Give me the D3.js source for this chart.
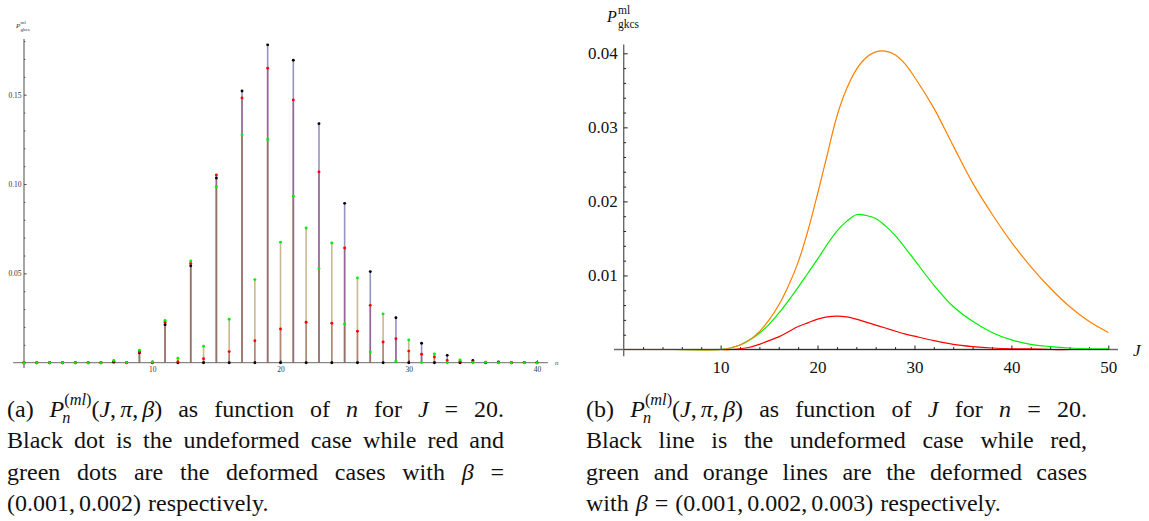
<!DOCTYPE html>
<html>
<head>
<meta charset="utf-8">
<script src="https://cdn.jsdelivr.net/npm/d3@7"></script>
<style>
  body { margin: 0; background: #fff; }
  svg { display: block; }
</style>
</head>
<body>
<svg id="chart" width="1149" height="521"></svg>
<script>
// ---- panel (a): P vs n, J = 20
const nValues = d3.range(0, 41);
const blackDots = [0,0,0,0,0,0,0,0.0003,0,0.0056,0,0.0213,0,0.0543,0,0.1034,0,0.1521,0,0.1779,0,
  0.1693,0,0.1338,0,0.0892,0,0.0510,0,0.0252,0,0.0109,0,0.0041,0,0.0013,0,0.0004,0,0.0001,0];
const redDots = [0,0,0,0,0,0,0,0.0008,0,0.0061,0.0001,0.0226,0.0006,0.0556,0.0022,0.1051,0.0062,0.1482,0.0123,0.1648,0.0189,
  0.1471,0.0226,0.1068,0.0221,0.0642,0.0176,0.0321,0.0116,0.0134,0.0065,0.0047,0.0032,0.0013,0.0008,0.0004,0.0003,0.0001,0,0,0];
const greenDots = [0,0,0,0,0,0,0,0.0013,0.0001,0.0070,0.0004,0.0237,0.0025,0.0569,0.0092,0.0985,0.0243,0.1275,0.0465,0.1249,0.0674,
  0.0932,0.0754,0.0526,0.0670,0.0217,0.0474,0.0060,0.0273,0.0008,0.0127,0.0001,0.0049,0,0.0015,0,0.0002,0,0,0,0];
const nTicks = [10, 20, 30, 40];
const nMinor = [2, 4, 6, 8, 12, 14, 16, 18, 22, 24, 26, 28, 32, 34, 36, 38];
const yTicksA = [0.05, 0.10, 0.15];
const yMinorA = [0.01, 0.02, 0.03, 0.04, 0.06, 0.07, 0.08, 0.09, 0.11, 0.12, 0.13, 0.14, 0.16, 0.17, 0.18];

// ---- panel (b): P vs J, n = 20
const jValues = [0,5,10,11,12,13,14,15,16,17,18,19,20,21,22,23,24,25,26,27,28,29,30,32,34,36,38,40,42,44,46,48,50];
const blackLine = [0,0,0,0,0,0,0,0,0,0,0,0,0,0,0,0,0,0,0,0,0,0,0,0,0,0,0,0,0,0,0,0,0];
const redLine = [0,0,0,0,0.0001,0.0003,0.0007,0.0012,0.0017,0.0024,0.0031,0.0036,0.0041,0.0044,0.0045,0.0044,0.0041,
  0.0037,0.0033,0.0029,0.0025,0.0021,0.0018,0.0012,0.0007,0.0004,0.0002,0.0001,0.0001,0,0,0,0];
const greenLine = [0,0,0,0.0002,0.0006,0.0013,0.0022,0.0034,0.0049,0.0066,0.0084,0.0103,0.0122,0.0142,0.0160,0.0173,0.0182,
  0.0181,0.0177,0.0167,0.0154,0.0138,0.0121,0.0087,0.0058,0.0038,0.0023,0.0013,0.0007,0.0004,0.0002,0.0001,0.0001];
const orangeLine = [0,0,0,0.0002,0.0006,0.0013,0.0024,0.0040,0.0060,0.0086,0.0118,0.0160,0.0210,0.0263,0.0315,0.0352,0.0378,
  0.0394,0.0402,0.0403,0.0398,0.0386,0.0368,0.0326,0.0275,0.0225,0.0183,0.0145,0.0112,0.0083,0.0058,0.0038,0.0023];
const jTicks = [10, 20, 30, 40, 50];
const jMinor = [2,4,6,8,12,14,16,18,22,24,26,28,32,34,36,38,42,44,46,48];
const yTicksB = [0.01, 0.02, 0.03, 0.04];
const yMinorB = [0.002,0.004,0.006,0.008,0.012,0.014,0.016,0.018,0.022,0.024,0.026,0.028,0.032,0.034,0.036,0.038];

const serif = '"Liberation Serif"';
const axisCol = "#6a6a6a";
const svg = d3.select("#chart");

// ================= panel (a) =================
const xa = d3.scaleLinear().domain([0, 40]).range([24, 537]);
const ya = d3.scaleLinear().domain([0, 0.15]).range([362.7, 94.7]);
const pa = svg.append("g");

// stems (filling to axis), one colour per series
const stemColors = ["rgb(61,61,153)", "rgb(153,61,107)", "rgb(153,128,61)"];
const dotColors = ["#000000", "#ff0000", "#00ee00"];
const dotSeries = [blackDots, redDots, greenDots];

dotSeries.forEach((vals, s) => {
  pa.append("g").selectAll("line").data(vals).join("line")
    .attr("x1", (d, i) => xa(nValues[i]))
    .attr("x2", (d, i) => xa(nValues[i]))
    .attr("y1", ya(0))
    .attr("y2", d => ya(d))
    .attr("stroke", stemColors[s])
    .attr("stroke-opacity", 0.55)
    .attr("stroke-width", 1.6);
});

// axes
pa.append("line").attr("x1", xa(-0.85)).attr("x2", xa(40.85)).attr("y1", ya(0)).attr("y2", ya(0))
  .attr("stroke", axisCol).attr("stroke-width", 1);
pa.append("line").attr("x1", xa(0)).attr("x2", xa(0)).attr("y1", ya(0.1812)).attr("y2", ya(-0.003))
  .attr("stroke", axisCol).attr("stroke-width", 1.2);

const axAx = pa.append("g").attr("transform", `translate(0,${ya(0)})`)
  .call(d3.axisBottom(xa).tickValues(nTicks).tickSize(-2.5).tickPadding(4).tickFormat(d3.format("d")));
const axAxm = pa.append("g").attr("transform", `translate(0,${ya(0)})`)
  .call(d3.axisBottom(xa).tickValues(nMinor).tickSize(-1.4).tickFormat(""));
const axAy = pa.append("g").attr("transform", `translate(${xa(0)},0)`)
  .call(d3.axisLeft(ya).tickValues(yTicksA).tickSize(-2.7).tickPadding(2.5).tickFormat(d3.format(".2f")));
const axAym = pa.append("g").attr("transform", `translate(${xa(0)},0)`)
  .call(d3.axisLeft(ya).tickValues(yMinorA).tickSize(-1.4).tickFormat(""));
[axAx, axAxm, axAy, axAym].forEach(g => {
  g.select(".domain").remove();
  g.selectAll("line").attr("stroke", "#333").attr("stroke-width", 0.8);
  g.selectAll("text").style("font-family", serif).attr("font-size", 7.5).attr("fill", "#333");
});

// dots
dotSeries.forEach((vals, s) => {
  pa.append("g").selectAll("circle").data(vals).join("circle")
    .attr("cx", (d, i) => xa(nValues[i]))
    .attr("cy", d => ya(d))
    .attr("r", 1.45)
    .attr("fill", dotColors[s]);
});

// axis labels
pa.append("text").attr("x", 555).attr("y", 364.5).style("font-family", serif)
  .attr("font-style", "italic").attr("font-size", 7).attr("fill", "#444").text("n");
const la = pa.append("g").attr("fill", "#333");
la.append("text").attr("x", 16).attr("y", 27.5).attr("font-size", 7).attr("font-style", "italic").text("P");
la.append("text").attr("x", 20.5).attr("y", 23.5).attr("font-size", 5).text("ml");
la.append("text").attr("x", 20.5).attr("y", 30.5).attr("font-size", 5).text("gkcs");
la.selectAll("text").style("font-family", serif);

// ================= panel (b) =================
const xb = d3.scaleLinear().domain([0, 50]).range([623.7, 1108.3]);
const yb = d3.scaleLinear().domain([0, 0.04]).range([349.5, 53.3]);
const pb = svg.append("g");

pb.append("line").attr("x1", xb(-1)).attr("x2", xb(51)).attr("y1", yb(0)).attr("y2", yb(0))
  .attr("stroke", axisCol).attr("stroke-width", 1.4);
pb.append("line").attr("x1", xb(0)).attr("x2", xb(0)).attr("y1", yb(0.0412)).attr("y2", yb(-0.0009))
  .attr("stroke", axisCol).attr("stroke-width", 1.4);

const axBx = pb.append("g").attr("transform", `translate(0,${yb(0)})`)
  .call(d3.axisBottom(xb).tickValues(jTicks).tickSize(-4).tickPadding(11).tickFormat(d3.format("d")));
const axBxm = pb.append("g").attr("transform", `translate(0,${yb(0)})`)
  .call(d3.axisBottom(xb).tickValues(jMinor).tickSize(-2.4).tickFormat(""));
const axBy = pb.append("g").attr("transform", `translate(${xb(0)},0)`)
  .call(d3.axisLeft(yb).tickValues(yTicksB).tickSize(-4).tickPadding(6).tickFormat(d3.format(".2f")));
const axBym = pb.append("g").attr("transform", `translate(${xb(0)},0)`)
  .call(d3.axisLeft(yb).tickValues(yMinorB).tickSize(-2.4).tickFormat(""));
[axBx, axBxm, axBy, axBym].forEach(g => {
  g.select(".domain").remove();
  g.selectAll("line").attr("stroke", "#222").attr("stroke-width", 1);
  g.selectAll("text").style("font-family", serif).attr("font-size", 17).attr("fill", "#111");
});

const line = d3.line().x((d, i) => xb(jValues[i])).y(d => yb(d)).curve(d3.curveCatmullRom.alpha(0.5));
const curves = [
  { vals: redLine, col: "#ff0000", op: 1 },
  { vals: greenLine, col: "#00ee00", op: 1 },
  { vals: orangeLine, col: "#ff8000", op: 1 },
  { vals: blackLine, col: "#000000", op: 0.55 }
];
curves.forEach(c => {
  pb.append("path").datum(c.vals).attr("d", line)
    .attr("fill", "none").attr("stroke", c.col).attr("stroke-opacity", c.op).attr("stroke-width", 1.2);
});

pb.append("text").attr("x", 1133).attr("y", 356).style("font-family", serif)
  .attr("font-style", "italic").attr("font-size", 17).attr("fill", "#111").text("J");
const lb = pb.append("g").attr("fill", "#111");
lb.append("text").attr("x", 607).attr("y", 22).attr("font-size", 16).attr("font-style", "italic").text("P");
lb.append("text").attr("x", 618).attr("y", 14).attr("font-size", 11.5).text("ml");
lb.append("text").attr("x", 618).attr("y", 28).attr("font-size", 11.5).text("gkcs");
lb.selectAll("text").style("font-family", serif);

// ================= captions =================
const cap = svg.append("g").attr("fill", "#111");
const capSize = 24;

function drawToken(g, token) {
  let x = 0, supStart = null, supEnd = 0;
  token.forEach(([t, st]) => {
    if (st === "th") { x += capSize * 0.17; return; }
    let fs = capSize, dy = 0;
    const italic = st === "i" || st === "Si" || st === "b";
    if (st === "Si" || st === "Sr") {
      fs = capSize * 0.68; dy = -capSize * 0.5;
      if (supStart === null) supStart = x;
    }
    if (st === "b") {
      fs = capSize * 0.68; dy = capSize * 0.25;
      if (supStart !== null) { supEnd = x; x = supStart - 2; }
    }
    const el = g.append("text").attr("x", x).attr("y", dy).attr("font-size", fs)
      .style("font-family", serif)
      .attr("font-style", italic ? "italic" : "normal").text(t);
    x += el.node().getComputedTextLength();
    if (st === "b" && supStart !== null) { x = Math.max(x, supEnd); supStart = null; }
  });
  return x;
}

const words = s => s.split(" ").map(w => [[w, "r"]]);
const pToken = [["P", "i"], ["(", "Sr"], ["ml", "Si"], [")", "Sr"], ["n", "b"], ["(", "r"], ["J", "i"], [",", "r"],
  ["", "th"], ["π", "i"], [",", "r"], ["", "th"], ["β", "i"], [")", "r"]];

const captionA = [
  [[["(a)", "r"]], pToken, ...words("as function of"), [["n", "i"]], [["for", "r"]], [["J", "i"]], [["=", "r"]], [["20.", "r"]]],
  words("Black dot is the undeformed case while red and"),
  [...words("green dots are the deformed cases with"), [["β", "i"]], [["=", "r"]]],
  [[["(0.001,", "r"], ["", "th"], ["0.002)", "r"]], [["respectively.", "r"]]]
];
const captionB = [
  [[["(b)", "r"]], pToken, ...words("as function of"), [["J", "i"]], [["for", "r"]], [["n", "i"]], [["=", "r"]], [["20.", "r"]]],
  words("Black line is the undeformed case while red,"),
  words("green and orange lines are the deformed cases"),
  [[["with", "r"]], [["β", "i"]], [["=", "r"]], [["(0.001,", "r"], ["", "th"], ["0.002,", "r"], ["", "th"], ["0.003)", "r"]], [["respectively.", "r"]]]
];

function drawCaption(lines, x0, width, y0, lh) {
  lines.forEach((ln, li) => {
    const parts = ln.map(tok => { const g = cap.append("g"); return { g, w: drawToken(g, tok) }; });
    const total = d3.sum(parts, d => d.w);
    const last = li === lines.length - 1;
    const gap = last ? 7 : (width - total) / (parts.length - 1);
    let x = x0;
    parts.forEach(d => { d.g.attr("transform", `translate(${x},${y0 + li * lh})`); x += d.w + gap; });
  });
}

drawCaption(captionA, 7, 497, 416.5, 31.5);
drawCaption(captionB, 586, 501, 416.5, 31.5);
</script>
</body>
</html>
